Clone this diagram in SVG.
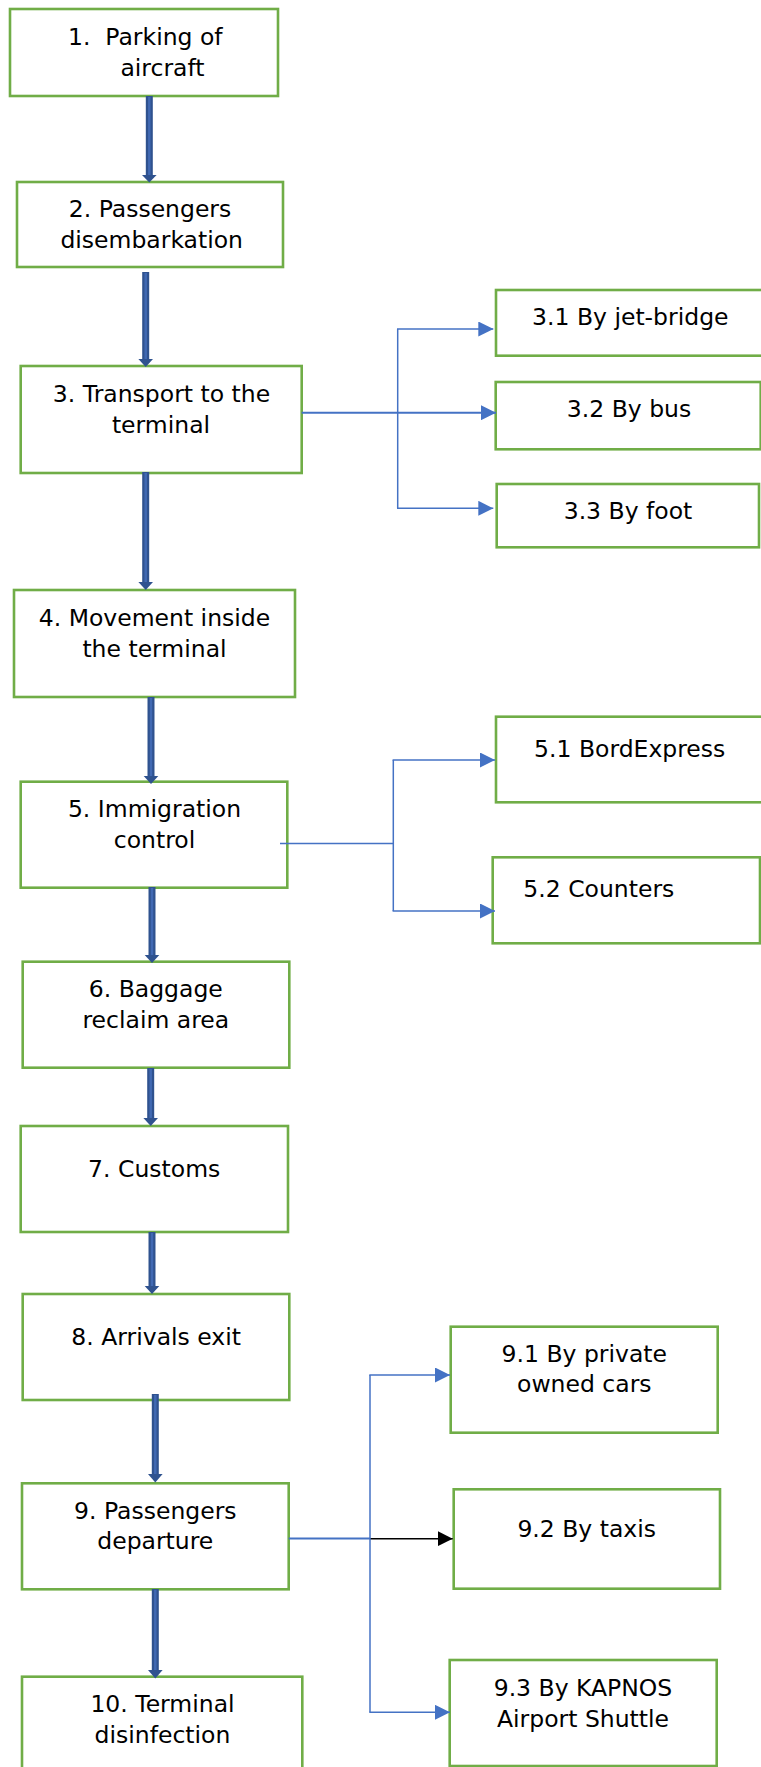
<svg xmlns="http://www.w3.org/2000/svg" width="761" height="1767" viewBox="0 0 761 1767">
<style>
.box{fill:#fff;stroke:#70AD47;stroke-width:2.6}
.t{font-family:"DejaVu Sans","Liberation Sans",sans-serif;font-size:23.5px;fill:#000;text-anchor:middle}
.ts{text-anchor:start}
.shaft{stroke:#2F528F;stroke-width:7;fill:none}
.shaftin{stroke:#4169B3;stroke-width:2.5;fill:none}
.head{fill:#2F528F}
.thin{stroke:#4472C4;stroke-width:1.5;fill:none}
.main{stroke:#4472C4;stroke-width:2;fill:none}
.blk{stroke:#000;stroke-width:1.5;fill:none}
</style>
<defs>
<marker id="ab" markerUnits="userSpaceOnUse" markerWidth="15" markerHeight="15" refX="15" refY="7.5" orient="auto"><path d="M0,0 L15,7.5 L0,15 z" fill="#4472C4"/></marker>
<marker id="ak" markerUnits="userSpaceOnUse" markerWidth="15" markerHeight="15" refX="15" refY="7.5" orient="auto"><path d="M0,0 L15,7.5 L0,15 z" fill="#000"/></marker>
</defs>
<rect width="761" height="1767" fill="#fff"/>

<g id="n1"><rect class="box" x="10" y="9" width="268" height="87"/><text class="t" x="145.3" y="45" xml:space="preserve">1.  Parking of</text><text class="t" x="162.5" y="76">aircraft</text></g>
<g id="n2"><rect class="box" x="17" y="182" width="266" height="85"/><text class="t" x="150" y="217">2. Passengers</text><text class="t" x="151.7" y="248">disembarkation</text></g>
<g id="n3"><rect class="box" x="20.7" y="366" width="281" height="107"/><text class="t" x="161.5" y="401.7">3. Transport to the</text><text class="t" x="161" y="433">terminal</text></g>
<g id="n3-1"><rect class="box" x="496" y="290" width="270" height="65.7"/><text class="t" x="630.3" y="325">3.1 By jet-bridge</text></g>
<g id="n3-2"><rect class="box" x="495.7" y="382" width="265" height="67.3"/><text class="t" x="629" y="416.7">3.2 By bus</text></g>
<g id="n3-3"><rect class="box" x="496.7" y="484" width="262.3" height="63.3"/><text class="t" x="628" y="519.3">3.3 By foot</text></g>
<g id="n4"><rect class="box" x="14" y="590" width="281" height="107"/><text class="t" x="154.5" y="625.7">4. Movement inside</text><text class="t" x="154.5" y="657.3">the terminal</text></g>
<g id="n5"><rect class="box" x="20.7" y="781.7" width="266.6" height="106"/><text class="t" x="154.5" y="816.7">5. Immigration</text><text class="t" x="154.5" y="848.3">control</text></g>
<g id="n5-1"><rect class="box" x="496" y="716.7" width="270" height="85.6"/><text class="t" x="629.7" y="756.7">5.1 BordExpress</text></g>
<g id="n5-2"><rect class="box" x="492.7" y="857.3" width="267.3" height="86"/><text class="t ts" x="523.3" y="897.3">5.2 Counters</text></g>
<g id="n6"><rect class="box" x="22.7" y="961.7" width="266.6" height="106"/><text class="t" x="155.8" y="997">6. Baggage</text><text class="t" x="155.8" y="1027.5">reclaim area</text></g>
<g id="n7"><rect class="box" x="20.7" y="1126" width="267.3" height="106"/><text class="t" x="154.2" y="1177">7. Customs</text></g>
<g id="n8"><rect class="box" x="22.7" y="1294" width="266.6" height="106"/><text class="t" x="156.2" y="1345">8. Arrivals exit</text></g>
<g id="n9"><rect class="box" x="22" y="1483.3" width="266.7" height="106"/><text class="t" x="155.3" y="1519.3">9. Passengers</text><text class="t" x="155.3" y="1549.3">departure</text></g>
<g id="n9-1"><rect class="box" x="450.7" y="1326.7" width="267" height="106"/><text class="t" x="584.3" y="1362.3">9.1 By private</text><text class="t" x="584.3" y="1392.3">owned cars</text></g>
<g id="n9-2"><rect class="box" x="453.7" y="1489.3" width="266.3" height="99.4"/><text class="t" x="586.7" y="1536.7">9.2 By taxis</text></g>
<g id="n9-3"><rect class="box" x="449.7" y="1660" width="267" height="106"/><text class="t" x="583" y="1695.7">9.3 By KAPNOS</text><text class="t" x="583" y="1726.7">Airport Shuttle</text></g>
<g id="n10"><rect class="box" x="22" y="1676.7" width="280.3" height="100"/><text class="t" x="162.5" y="1711.7">10. Terminal</text><text class="t" x="162.5" y="1743.3">disinfection</text></g>

<g id="connectors">
  <g id="a1-2"><line class="shaft" x1="149.3" y1="96" x2="149.3" y2="176"/><line class="shaftin" x1="149.3" y1="97" x2="149.3" y2="176"/><polygon class="head" points="142,175 156.6,175 149.3,182.5"/></g>
  <g id="a2-3"><line class="shaft" x1="145.7" y1="272" x2="145.7" y2="360"/><line class="shaftin" x1="145.7" y1="273" x2="145.7" y2="360"/><polygon class="head" points="138.4,359 153,359 145.7,367"/></g>
  <g id="a3-4"><line class="shaft" x1="145.7" y1="472" x2="145.7" y2="583"/><line class="shaftin" x1="145.7" y1="473" x2="145.7" y2="583"/><polygon class="head" points="138.4,582 153,582 145.7,590"/></g>
  <g id="a4-5"><line class="shaft" x1="151" y1="697" x2="151" y2="777"/><line class="shaftin" x1="151" y1="698" x2="151" y2="777"/><polygon class="head" points="143.7,776 158.3,776 151,784"/></g>
  <g id="a5-6"><line class="shaft" x1="152" y1="887" x2="152" y2="956"/><line class="shaftin" x1="152" y1="888" x2="152" y2="956"/><polygon class="head" points="144.7,955 159.3,955 152,963"/></g>
  <g id="a6-7"><line class="shaft" x1="150.7" y1="1068" x2="150.7" y2="1119"/><line class="shaftin" x1="150.7" y1="1069" x2="150.7" y2="1119"/><polygon class="head" points="143.4,1118 158,1118 150.7,1126"/></g>
  <g id="a7-8"><line class="shaft" x1="152" y1="1232" x2="152" y2="1287"/><line class="shaftin" x1="152" y1="1233" x2="152" y2="1287"/><polygon class="head" points="144.7,1286 159.3,1286 152,1294"/></g>
  <g id="a8-9"><line class="shaft" x1="155.3" y1="1394" x2="155.3" y2="1475"/><line class="shaftin" x1="155.3" y1="1395" x2="155.3" y2="1475"/><polygon class="head" points="148,1474 162.6,1474 155.3,1482.5"/></g>
  <g id="a9-10"><line class="shaft" x1="155.3" y1="1589" x2="155.3" y2="1671"/><line class="shaftin" x1="155.3" y1="1590" x2="155.3" y2="1671"/><polygon class="head" points="148,1670 162.6,1670 155.3,1678.5"/></g>

  <line class="main" x1="301.7" y1="412.7" x2="496" y2="412.7" marker-end="url(#ab)"/>
  <line class="thin" x1="397.7" y1="329" x2="397.7" y2="508.3"/>
  <line class="thin" x1="397" y1="329" x2="493.3" y2="329" marker-end="url(#ab)"/>
  <line class="thin" x1="397" y1="508.3" x2="493.3" y2="508.3" marker-end="url(#ab)"/>

  <line class="thin" x1="280" y1="843.5" x2="394" y2="843.5"/>
  <line class="thin" x1="393.3" y1="760" x2="393.3" y2="911"/>
  <line class="thin" x1="392.6" y1="760" x2="495" y2="760" marker-end="url(#ab)"/>
  <line class="thin" x1="392.6" y1="911" x2="495" y2="911" marker-end="url(#ab)"/>

  <line class="main" x1="288.7" y1="1538.5" x2="370" y2="1538.5"/>
  <line class="blk" x1="370" y1="1538.7" x2="452.7" y2="1538.7" marker-end="url(#ak)"/>
  <line class="thin" x1="370" y1="1375" x2="370" y2="1712.3"/>
  <line class="thin" x1="369.3" y1="1375" x2="450" y2="1375" marker-end="url(#ab)"/>
  <line class="thin" x1="369.3" y1="1712.3" x2="450" y2="1712.3" marker-end="url(#ab)"/>
</g>
</svg>
